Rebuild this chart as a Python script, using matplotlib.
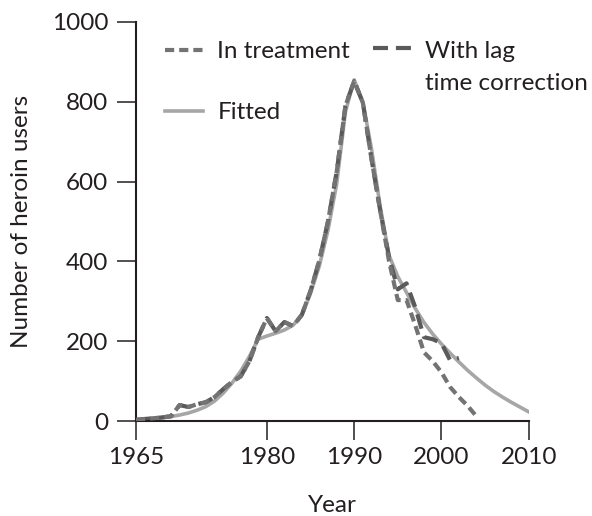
import matplotlib.pyplot as plt
from matplotlib.legend_handler import HandlerLine2D

plt.rcParams['font.family'] = ['Lato', 'DejaVu Sans']
plt.rcParams['font.size'] = 17.5
ink = '#231f20'

years_fit = list(range(1965, 2011))
fitted = [2, 3, 5, 8, 11, 15, 20, 27, 36, 50,
          70, 95, 125, 162, 205, 213, 220, 228, 240, 265,
          320, 388, 478, 595, 775, 855, 800, 680, 535, 415,
          362, 322, 282, 247, 218, 193, 170, 148, 127, 108,
          90, 74, 60, 47, 35, 23]

years_treat = list(range(1965, 2005))
in_treatment = [3, 5, 7, 9, 12, 40, 35, 42, 47, 60,
                80, 98, 112, 150, 210, 258, 225, 248, 238, 266,
                326, 402, 500, 625, 790, 852, 797, 655, 525, 400,
                303, 303, 240, 172, 150, 122, 85, 60, 38, 12]

years_lag = list(range(1965, 2003))
lag_corrected = [3, 5, 7, 9, 12, 40, 35, 42, 47, 60,
                 80, 98, 112, 150, 210, 258, 225, 248, 238, 266,
                 326, 402, 500, 625, 790, 852, 797, 655, 525, 410,
                 330, 345, 285, 210, 205, 195, 152, 158]


# puts the handle next to the first line of a two-line label
class FirstLineHandler(HandlerLine2D):
    def __init__(self, shift, **kw):
        super().__init__(**kw)
        self.shift = shift

    def create_artists(self, legend, orig_handle, xdescent, ydescent,
                       width, height, fontsize, trans):
        arts = super().create_artists(legend, orig_handle, xdescent, ydescent,
                                      width, height, fontsize, trans)
        for a in arts:
            a.set_ydata([y + self.shift for y in a.get_ydata()])
        return arts


fig = plt.figure(figsize=(5.92, 5.16), dpi=100)
ax = fig.add_axes([136/592, 95/516, 392.7/592, 399/516])

fit_line, = ax.plot(years_fit, fitted, color='#a6a6a6', lw=2.6, label='Fitted', zorder=1)
lag_line, = ax.plot(years_lag, lag_corrected, color='#5a5a5a', lw=3,
                    dashes=(3.6, 1.9), label='With lag\ntime correction', zorder=2)
treat_line, = ax.plot(years_treat, in_treatment, color='#737373', lw=3,
                      dashes=(2.2, 1.2), label='In treatment', zorder=3)

ax.set_xlim(1965, 2010)
ax.set_ylim(0, 1000)
ax.set_xticks([1965, 1980, 1990, 2000, 2010])
ax.set_yticks([0, 200, 400, 600, 800, 1000])
for s in ['top', 'right']:
    ax.spines[s].set_visible(False)
for s in ['left', 'bottom']:
    ax.spines[s].set_linewidth(1.5)
    ax.spines[s].set_color(ink)
ax.tick_params(direction='out', length=14, width=1.1, color=ink,
               labelcolor=ink, pad=5, labelsize=17.5)
ax.tick_params(axis='y', pad=6)
ax.set_xlabel('Year', color=ink, labelpad=19)
ax.set_ylabel('Number of heroin users', color=ink, labelpad=14)

leg_kw = dict(loc='upper left', bbox_transform=fig.transFigure, frameon=False,
              borderpad=0, borderaxespad=0, handlelength=1.55,
              handletextpad=0.6, labelcolor=ink)
leg1 = ax.legend([treat_line, fit_line], ['In treatment', 'Fitted'],
                 bbox_to_anchor=(165/592, 1 - 41/516), labelspacing=1.65, **leg_kw)
ax.add_artist(leg1)
leg2 = ax.legend([lag_line], ['With lag\ntime correction'],
                 bbox_to_anchor=(373/592, 1 - 41/516),
                 handler_map={lag_line: FirstLineHandler(shift=14.4)}, **leg_kw)
leg2.get_texts()[0].set_linespacing(1.65)

plt.savefig('out.png', dpi=100)
